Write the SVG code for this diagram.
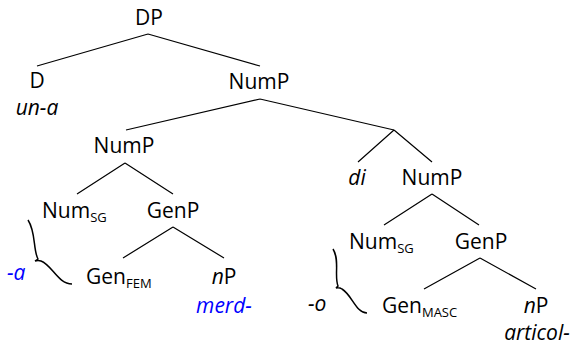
<svg xmlns="http://www.w3.org/2000/svg" width="576" height="346" viewBox="0 0 576 346">
<style>
text{font-family:"Open Sans","Noto Sans","Liberation Sans",sans-serif;font-size:21px;fill:#000}
.c{text-anchor:middle}
.i{font-style:italic}
.b{fill:#0000ff}
.s{font-size:13px}
.e{fill:none;stroke:#000;stroke-width:1.2}
.br{fill:none;stroke:#000;stroke-width:1.5}
</style>
<rect width="576" height="346" fill="#fff"/>
<g id="connectors">
<path class="e" d="M148,34L37,66M148,34L260,66"/>
<path class="e" d="M260,99L126,130M260,99L394,130"/>
<path class="e" d="M125,163L77,194M125,163L173,194"/>
<path class="e" d="M173,227L123,258M173,227L224,258"/>
<path class="e" d="M394,130L358,162M394,130L432,162"/>
<path class="e" d="M432,194L384,225M432,194L479,225"/>
<path class="e" d="M480,258L424,289M480,258L536,289"/>
<path class="br" d="M28,220C36,232 33,250 38,259L35,261Q38,260 41,261C52,265 58,284 72,284"/>
<path class="br" d="M333,249C340,260 334,276 338,286L336,288Q339,287 342,289C352,295 356,313 367,313"/>
</g>
<g id="DP"><text class="c" x="149" y="25">DP</text></g>
<g id="D"><text class="c" x="37" y="88">D</text></g>
<g id="una"><text class="c i" x="37" y="115">un-a</text></g>
<g id="NumP1"><text class="c" x="259" y="89">NumP</text></g>
<g id="NumP2"><text class="c" x="124" y="153">NumP</text></g>
<g id="NumSG1"><text x="42" y="218">Num<tspan class="s" dy="4">SG</tspan></text></g>
<g id="GenP1"><text class="c" x="173" y="218">GenP</text></g>
<g id="a"><text class="i b" x="7" y="280">-a</text></g>
<g id="GenFEM"><text x="86" y="284">Gen<tspan class="s" dy="4">FEM</tspan></text></g>
<g id="nP1"><text class="c" x="224" y="284"><tspan class="i">n</tspan>P</text></g>
<g id="merd"><text class="c i b" x="224" y="313">merd-</text></g>
<g id="di"><text class="c i" x="357" y="185">di</text></g>
<g id="NumP3"><text class="c" x="432" y="185">NumP</text></g>
<g id="NumSG2"><text x="349" y="249">Num<tspan class="s" dy="4">SG</tspan></text></g>
<g id="GenP2"><text class="c" x="481" y="249">GenP</text></g>
<g id="o"><text class="i" x="308" y="311">-o</text></g>
<g id="GenMASC"><text x="382" y="313">Gen<tspan class="s" dy="4">MASC</tspan></text></g>
<g id="nP2"><text class="c" x="536" y="313"><tspan class="i">n</tspan>P</text></g>
<g id="articol"><text class="c i" x="537" y="340">articol-</text></g>
</svg>
